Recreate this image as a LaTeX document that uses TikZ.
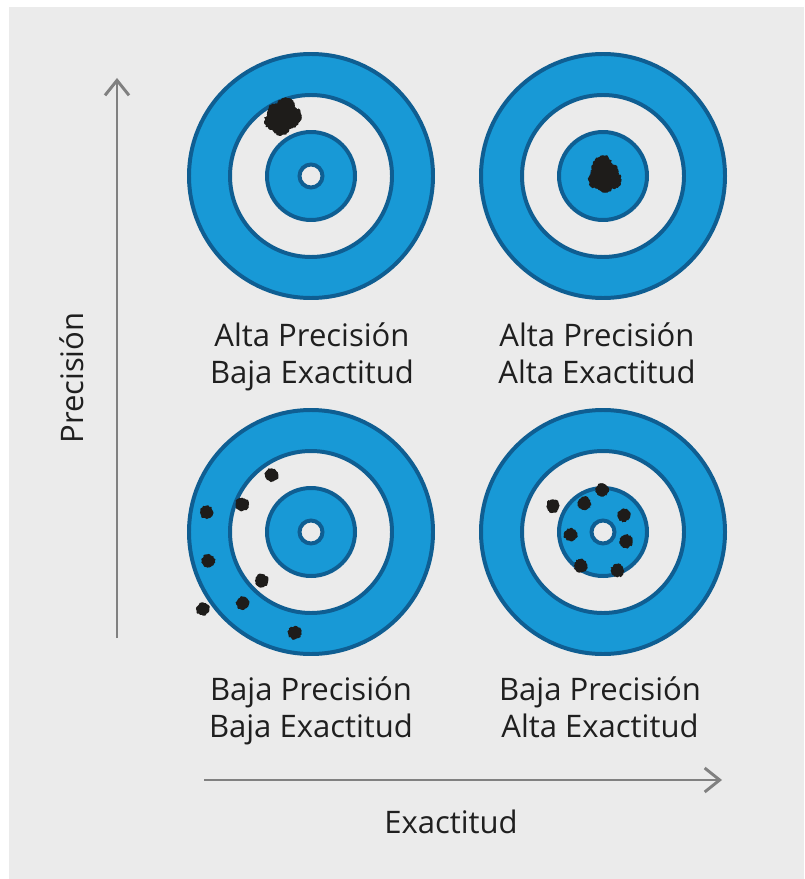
\documentclass[tikz,border=0pt]{standalone}
\usepackage{fontspec}
\setmainfont{Open Sans}
\definecolor{paper}{HTML}{EBEBEB}
\definecolor{ringblue}{HTML}{1899D6}
\definecolor{ringedge}{HTML}{0F5E92}
\definecolor{axisgray}{HTML}{808080}
\definecolor{ink}{HTML}{1F1F1F}
\definecolor{holeblack}{HTML}{1E1C1A}
\usetikzlibrary{arrows.meta,decorations.pathmorphing}
\tikzset{
  ring/.style={draw=ringedge,line width=3.4pt,fill=ringblue},
  gap/.style={draw=ringedge,line width=3.4pt,fill=paper},
  hole/.style={fill=holeblack,decorate,
               decoration={random steps,segment length=1.2pt,amplitude=0.7pt}},
  axis/.style={-{Straight Barb[length=4.5mm,width=7.2mm]},line width=2.5pt,axisgray},
  lbl/.style={font=\fontsize{26.5}{31.5}\selectfont,text=ink,align=center,inner sep=0pt},
  caption/.style={lbl,execute at end node=\strut}
}

\begin{document}
\begin{tikzpicture}[x=0.03cm,y=-0.03cm]
    \pgfmathsetseed{7}
    \useasboundingbox (0,0) rectangle (804,879);
    \fill[white] (0,0) rectangle (804,879);
    \fill[paper] (9,7) rectangle (804,879);
    % four targets
    \foreach \x/\y/\n in {311/176/ta,603/176/tb,311/532/tc,603/532/td}{
      \coordinate (\n) at (\x,\y);
      \draw[ring] (\n) circle (122);
      \draw[gap] (\n) circle (81);
      \draw[ring] (\n) circle (44);
      \draw[gap] (\n) circle (11.5);
    }
    % clustered shots
    \foreach \x/\y in {276/112,288/111,285/122,290/120,273/121,286/106,281/127,280/115,293/116}
      \fill[hole] (\x,\y) circle (8.5);
    \foreach \x/\y in {600/168,610/172,597/180,613/180,605/184,603/164,599/175,607/178}
      \fill[hole] (\x,\y) circle (8.5);
    % scattered shots
    \foreach \x/\y in {271.7/475,242.3/504.3,206.7/512.3,208.3/560.7,261.7/580.7,242.7/603.3,202.7/609,294.7/632.7,
                       602.3/490,584.3/503.3,553/506,624/515,570.7/534.7,626/541.3,580.7/565.7,617.3/570.7}
      \fill[hole] (\x,\y) circle (6.5);
    % captions
    \node[caption] (la) at (312,358.5) {Alta Precisión\\Baja Exactitud};
    \node[caption] (lb) at (597,358.5) {Alta Precisión\\Alta Exactitud};
    \node[caption] (lc) at (311,712.5) {Baja Precisión\\Baja Exactitud};
    \node[caption] (ld) at (600,712.5) {Baja Precisión\\Alta Exactitud};
    % axes
    \coordinate (p0) at (117,638);
    \coordinate (p1) at (117,78);
    \coordinate (e0) at (204,780);
    \coordinate (e1) at (722,780);
    \draw[axis] (p0) -- (p1);
    \draw[axis] (e0) -- (e1);
    \node[lbl,rotate=90] (prec) at (72,378) {Precisión};
    \node[lbl] (exac) at (451,822) {Exactitud};
\end{tikzpicture}
\end{document}
